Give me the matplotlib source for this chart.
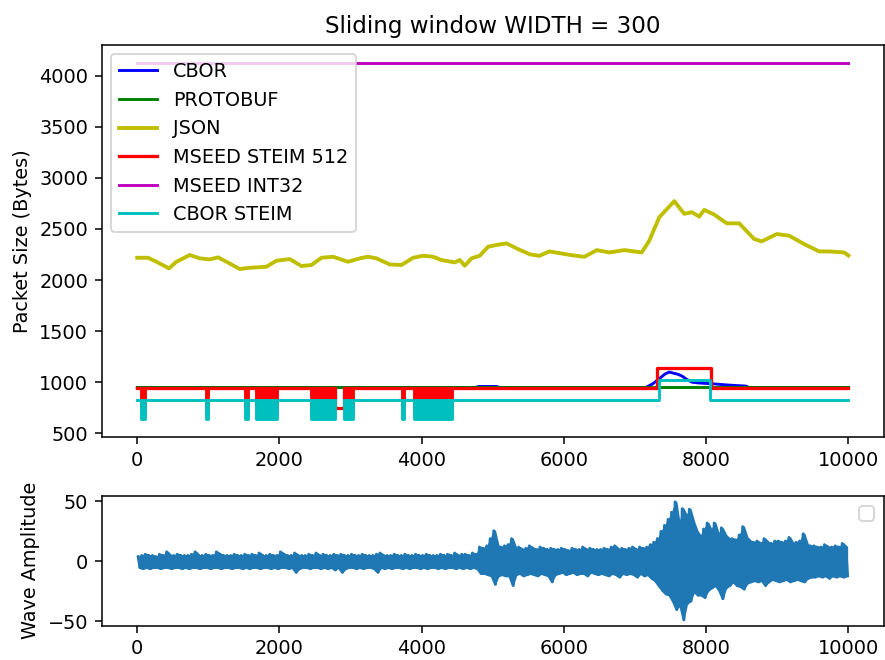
import matplotlib
matplotlib.use("Agg")
import matplotlib.pyplot as plt
import numpy as np

# ---------------- data ----------------
title = "Sliding window WIDTH = 300"
labels = ["CBOR", "PROTOBUF", "JSON", "MSEED STEIM 512", "MSEED INT32", "CBOR STEIM"]
x_start, x_end = 0, 10000

# CBOR
cbor_x = [0, 4750, 4800, 5050, 5100, 7150, 7250, 7350, 7420, 7480, 7540, 7600,
          7660, 7720, 7800, 7900, 8000, 8100, 8250, 8400, 8560, 8600, 10000]
cbor_y = [948, 948, 958, 958, 948, 948, 985, 1040, 1080, 1099, 1088, 1078,
          1060, 1030, 1000, 992, 988, 984, 975, 968, 962, 948, 948]

# PROTOBUF
protobuf_x = [0, 10000]
protobuf_y = [953, 953]

# JSON
json_x = [0, 152, 270, 447, 551, 738, 879, 1019, 1136, 1254, 1441, 1582, 1816,
          1957, 2144, 2309, 2449, 2590, 2753, 2964, 3128, 3245, 3363, 3550, 3715,
          3878, 4019, 4159, 4277, 4464, 4535, 4605, 4699, 4816, 4933, 5050, 5191,
          5354, 5519, 5653, 5794, 6075, 6286, 6461, 6637, 6848, 7093, 7199, 7340,
          7551, 7691, 7797, 7902, 7972, 8113, 8288, 8464, 8675, 8780, 8991, 9166,
          9377, 9588, 9728, 9939, 10000]
json_y = [2218, 2218, 2179, 2114, 2179, 2245, 2212, 2202, 2222, 2179, 2108, 2120, 2130,
          2189, 2205, 2137, 2147, 2218, 2228, 2179, 2212, 2228, 2212, 2153, 2147,
          2218, 2238, 2228, 2196, 2173, 2196, 2140, 2212, 2238, 2326, 2343, 2359,
          2303, 2252, 2237, 2280, 2247, 2227, 2293, 2270, 2293, 2270, 2385, 2615,
          2772, 2648, 2664, 2621, 2687, 2641, 2555, 2555, 2401, 2378, 2450, 2434,
          2352, 2280, 2280, 2270, 2240]

# MSEED STEIM 512 (steps)
steim_base = 948
steim_low = 752
steim_spans = [(2776, 2909, 752), (7310, 8070, 1141)]

# MSEED INT32
int32_value = 4128

# CBOR STEIM (steps); NaN = not drawn
cbor_steim_base = 823
cbor_steim_low = 635
cbor_steim_spans = [(2776, 2909, np.nan), (7330, 8055, 1017)]

# windows where the two STEIM series toggle rapidly (drawn as solid blocks)
toggle_blocks = [(50, 105), (966, 996), (1518, 1558), (1668, 1965),
                 (2441, 2776), (2909, 3033), (3720, 3752), (3893, 4424)]

yticks_top = [500, 1000, 1500, 2000, 2500, 3000, 3500, 4000]
yticks_bottom = [-50, 0, 50]

# wave amplitude: upper and lower peak per 50-sample bin
bin_width = 50
wave_hi = [4, 5, 6, 5, 5, 4, 6, 5, 8, 5,
           5, 6, 5, 5, 5, 6, 8, 5, 5, 6,
           5, 5, 8, 6, 5, 5, 5, 6, 5, 5,
           6, 5, 6, 5, 7, 5, 5, 6, 5, 5,
           8, 6, 5, 5, 7, 5, 5, 5, 6, 5,
           7, 5, 6, 5, 5, 6, 5, 6, 5, 5,
           6, 5, 5, 6, 5, 5, 5, 6, 7, 5,
           5, 5, 6, 5, 5, 6, 5, 5, 6, 5,
           5, 6, 5, 5, 5, 6, 5, 6, 5, 7,
           5, 6, 6, 5, 7, 6,
           12, 11, 13, 19, 25.6, 13, 12, 13, 14, 19,
           11, 12, 10, 11, 13, 11, 10, 12, 11, 10,
           11, 10,
           10, 11, 10, 9, 11, 10, 10, 12, 10, 11, 10, 10,
           10, 11, 10, 12, 13, 10, 11, 10, 11, 12, 10, 12, 11, 12,
           14, 16, 19, 25, 30, 35, 41, 49.6, 30, 44, 38, 43.5, 33, 25,
           21, 27, 32, 26, 32, 22, 28, 22, 19, 19, 18, 22, 29, 20,
           17, 16, 17, 15, 19, 16, 15, 17,
           17, 16, 17, 20, 15, 16, 17, 23, 14, 13,
           13, 12, 12, 14, 12, 12, 13, 12, 15, 12]
wave_lo = [-5, -6, -5, -6, -5, -5, -6, -5, -5, -6,
           -5, -5, -6, -5, -6, -5, -5, -6, -5, -5,
           -6, -5, -5, -6, -5, -5, -6, -5, -5, -6,
           -5, -6, -5, -5, -6, -5, -5, -6, -5, -6,
           -5, -5, -6, -5, -9, -6, -5, -5, -6, -5,
           -5, -6, -5, -6, -5, -7, -5, -9, -6, -5,
           -5, -6, -5, -6, -5, -5, -6, -9, -5, -6,
           -5, -6, -5, -5, -6, -5, -6, -5, -5, -6,
           -5, -6, -5, -5, -6, -5, -6, -5, -5, -6,
           -5, -6, -5, -6, -5, -6,
           -10, -10, -11, -12, -19, -12, -11, -12, -12, -20,
           -11, -10, -12, -11, -10, -11, -12, -10, -11, -12,
           -17, -11,
           -10, -9, -11, -10, -9, -11, -10, -10, -12, -9, -10, -11,
           -10, -11, -12, -10, -11, -13, -10, -11, -10, -11, -13, -10, -12, -11,
           -14, -16, -20, -24, -27, -28, -33, -40, -36, -48.6, -35, -33, -25, -28,
           -28, -30, -24, -22, -20, -24, -31, -22, -20, -17, -20, -21, -23, -18,
           -17, -16, -17, -16, -20, -17, -15, -16,
           -17, -16, -15, -17, -16, -15, -16, -17, -14, -13,
           -13, -12, -13, -12, -14, -12, -13, -12, -13, -12]


def step_series(base, spans):
    xs, ys = [x_start], [base]
    for s, e, v in spans:
        xs += [s, e]
        ys += [v, base]
    xs.append(x_end)
    ys.append(base)
    return xs, ys


DPI = 138.28
fig = plt.figure(figsize=(885 / DPI, 660 / DPI), dpi=DPI)
ax1 = fig.add_axes([0.1149, 0.3374, 0.8840, 0.5947])
ax2 = fig.add_axes([0.1149, 0.0520, 0.8840, 0.1965])

ax1.plot(cbor_x, cbor_y, color="b", label=labels[0])
ax1.plot(protobuf_x, protobuf_y, color="g", label=labels[1])
ax1.plot(json_x, json_y, color="y", label=labels[2], lw=2.0)

sx, sy = step_series(steim_base, steim_spans)
ax1.plot(sx, sy, color="r", drawstyle="steps-post", label=labels[3], lw=1.7)
for s, e in toggle_blocks:
    ax1.fill_between([s, e], [steim_low, steim_low], [steim_base, steim_base],
                     color="r", linewidth=1.5, zorder=2)

ax1.plot([x_start, x_end], [int32_value, int32_value], color="m", label=labels[4])

cx, cy = step_series(cbor_steim_base, cbor_steim_spans)
ax1.plot(cx, cy, color="c", drawstyle="steps-post", label=labels[5])
for s, e in toggle_blocks:
    ax1.fill_between([s, e], [cbor_steim_low, cbor_steim_low],
                     [cbor_steim_base, cbor_steim_base],
                     color="c", linewidth=1.5, zorder=2)

ax1.set_yticks(yticks_top)
ax1.set_ylabel("Packet Size (Bytes)")
ax1.set_title(title)
ax1.legend(loc="upper left")

# wave panel: dense oscillation shown as a solid band between the peaks
wx, wy = [], []
centers = []
for i, (h, l) in enumerate(zip(wave_hi, wave_lo)):
    wx += [i * bin_width + bin_width * 0.25, i * bin_width + bin_width * 0.75]
    wy += [h, l]
    centers.append(i * bin_width + bin_width * 0.5)
ax2.fill_between(centers, wave_lo, wave_hi, color="C0", linewidth=1.0)
ax2.plot(wx, wy, color="C0")
ax2.set_xlim(ax1.get_xlim())
ax2.set_yticks(yticks_bottom)
ax2.set_ylabel("Wave Amplitude")
ax2.legend(loc="upper right")

fig.savefig("out.png", dpi=DPI)
